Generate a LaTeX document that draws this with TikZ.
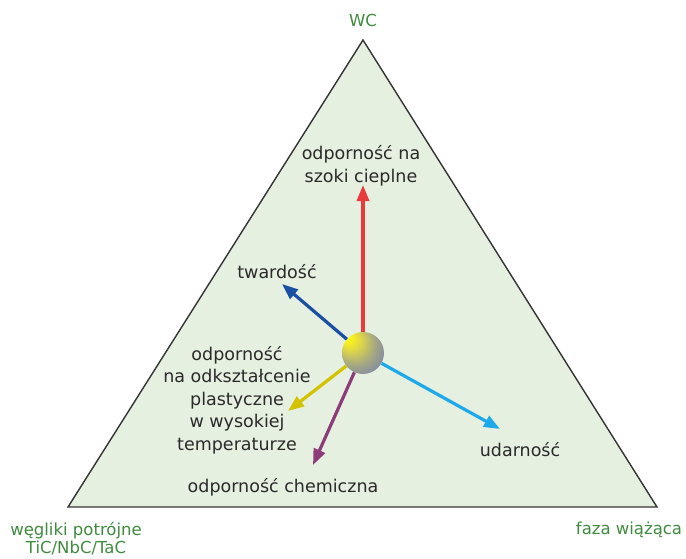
\documentclass[tikz,border=0pt]{standalone}
\usepackage{fontspec}
\setmainfont{DejaVu Sans}
\usetikzlibrary{arrows.meta}

\definecolor{fieldgreen}{HTML}{E6F0E0}
\definecolor{labelgreen}{HTML}{3E8B3E}
\definecolor{textgray}{HTML}{2A2A2A}
\definecolor{arrred}{HTML}{EA3A3C}
\definecolor{arrblue}{HTML}{1B4FA3}
\definecolor{arrcyan}{HTML}{1EA9EA}
\definecolor{arryellow}{HTML}{D2C200}
\definecolor{arrpurple}{HTML}{8E3B7A}

% ball with an off-centre yellow highlight
\pgfdeclareradialshading{phaseball}{\pgfpoint{-20bp}{20bp}}{%
  rgb(0bp)=(1,1,0.1);
  rgb(5bp)=(0.98,0.94,0.12);
  rgb(13bp)=(0.86,0.83,0.3);
  rgb(25bp)=(0.64,0.65,0.52);
  rgb(37bp)=(0.48,0.52,0.66);
  rgb(50bp)=(0.36,0.42,0.68)}

\begin{document}
\begin{tikzpicture}[x=1pt, y=-1pt,
  corner/.style={text=labelgreen, align=center, font=\fontsize{16.5}{18}\selectfont},
  prop/.style={text=textgray, align=center, font=\fontsize{17.5}{22.5}\selectfont},
  arr/.style={line width=3.2pt, -{Triangle[length=16pt, width=12pt]}}]
\useasboundingbox (0,0) rectangle (686,558);

% composition triangle
\coordinate (wc) at (363,40);
\coordinate (carb) at (68,507);
\coordinate (bind) at (657,507);
\draw[fill=fieldgreen, draw=black!80, line width=1.4pt, line join=miter] (wc) -- (carb) -- (bind) -- cycle;

\node[corner] (lwc) at (363,20) {WC};
\node[corner] (lcarb) at (76,539) {węgliki potrójne\\TiC/NbC/TaC};
\node[corner] (lbind) at (629,530) {faza wiążąca};

% arrow tips
\coordinate (tszok) at (363,185);
\coordinate (ttw) at (282,284);
\coordinate (tud) at (500,429);
\coordinate (tpl) at (288,411);
\coordinate (tch) at (313,465);

\node (ball) at (363,353) [circle, minimum size=42pt, inner sep=0pt, shading=phaseball] {};

\draw[arr, arrred] (ball) -- (tszok);
\draw[arr, arrblue] (ball) -- (ttw);
\draw[arr, arrcyan] (ball) -- (tud);
\draw[arr, arryellow] (ball) -- (tpl);
\draw[arr, arrpurple] (ball) -- (tch);

\node[prop] (lszok) at (361,166) {odporność na\\szoki cieplne};
\node[prop] (ltw) at (277,272) {twardość};
\node[prop] (lud) at (520,450) {udarność};
\node[prop] (lpl) at (237,400) {odporność\\na odkształcenie\\plastyczne\\w wysokiej\\temperaturze};
\node[prop] (lch) at (283,487) {odporność chemiczna};
\end{tikzpicture}
\end{document}
